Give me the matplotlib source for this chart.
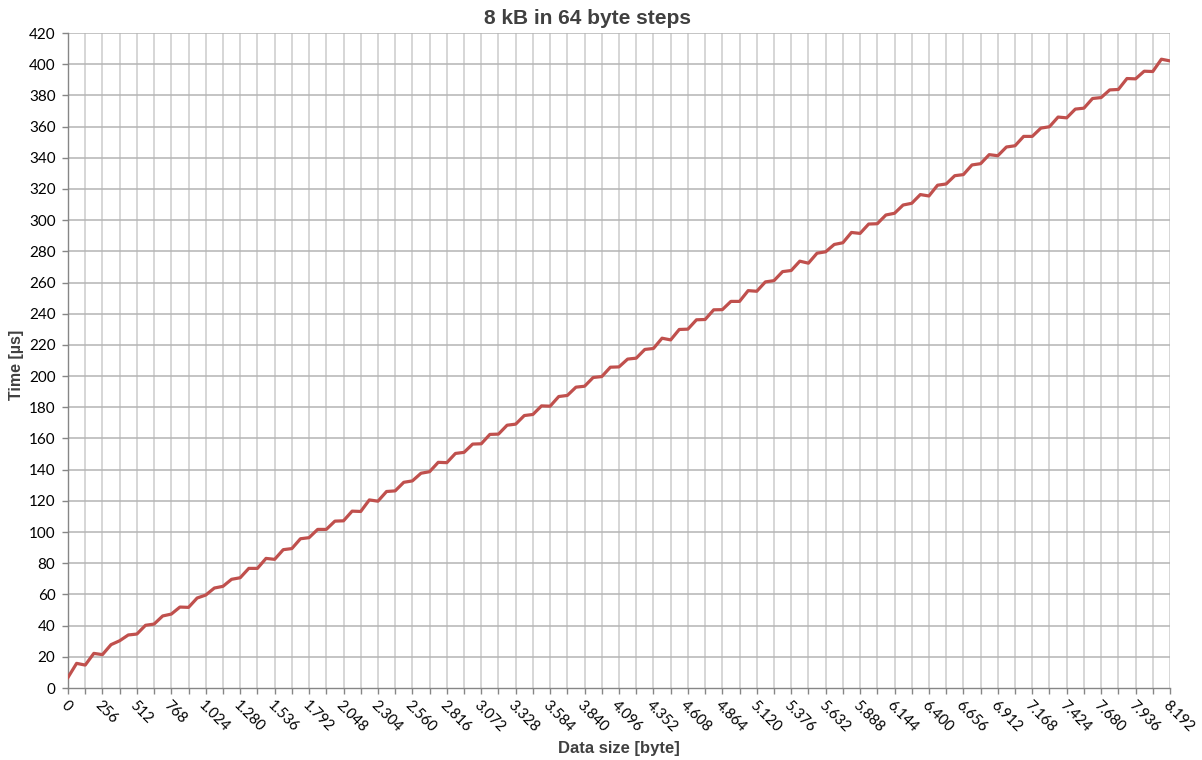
import numpy as np
import matplotlib
matplotlib.use("Agg")
import matplotlib.pyplot as plt
from matplotlib.ticker import FixedLocator

# Transfer size in bytes (64-byte steps up to 8 kB)
sizes = np.arange(0, 8193, 64)

# Measured transfer time in microseconds
times_us = [
    6.8, 15.8, 14.7, 22.2, 21.4, 27.8, 30.3, 34.0, 34.6, 40.2,
    41.0, 46.2, 47.4, 51.9, 51.7, 57.7, 59.6, 64.1, 65.2, 69.7,
    70.7, 76.7, 76.7, 83.1, 82.5, 88.7, 89.4, 95.7, 96.4, 101.7,
    101.7, 107.0, 107.2, 113.4, 113.2, 120.6, 119.8, 126.0, 126.4, 131.9,
    132.8, 137.7, 138.7, 144.7, 144.5, 150.4, 151.1, 156.4, 156.6, 162.6,
    162.8, 168.5, 169.2, 174.7, 175.4, 180.9, 180.7, 186.9, 187.6, 192.9,
    193.5, 199.1, 199.7, 205.7, 205.9, 210.9, 211.5, 217.1, 217.7, 224.3,
    223.2, 229.9, 230.1, 236.1, 236.3, 242.5, 242.6, 247.9, 247.9, 254.8,
    254.4, 260.4, 261.2, 267.0, 267.7, 273.7, 272.4, 278.8, 279.7, 284.4,
    285.5, 292.1, 291.5, 297.5, 297.7, 303.3, 304.4, 309.7, 310.8, 316.4,
    315.5, 322.4, 323.2, 328.5, 329.2, 335.4, 336.2, 342.0, 341.3, 346.9,
    347.7, 353.7, 353.7, 359.0, 359.9, 366.1, 365.6, 371.2, 371.8, 378.0,
    378.6, 383.5, 383.8, 390.8, 390.6, 395.5, 395.3, 403.2, 402.1,
]

# Axis tick positions and labels
x_grid = list(range(0, 8193, 128))
x_label_pos = list(range(0, 8193, 256))
x_labels = [f"{v:,}".replace(",", ".") for v in x_label_pos]
y_ticks = list(range(0, 421, 20))

title = "8 kB in 64 byte steps"
x_title = "Data size [byte]"
y_title = "Time [µs]"

W, H = 1202, 760
fig = plt.figure(figsize=(W / 100, H / 100), dpi=100)
ax = fig.add_axes([68 / W, 1 - 688 / H, (1170 - 68) / W, (688 - 33) / H])

ax.set_xlim(0, 8192)
ax.set_ylim(0, 420)

# Grid: light vertical lines every 128 bytes, darker horizontal lines every 20 µs
for xv in x_grid[1:]:
    ax.axvline(xv, color="#d6d6d6", lw=1.4, zorder=1)
for yv in y_ticks[1:]:
    ax.axhline(yv, color="#b4b4b4", lw=1.1, zorder=2)

ax.plot(sizes, times_us, color="#c0504d", lw=2.3, zorder=3)

for side in ("top", "right"):
    ax.spines[side].set_visible(False)
for side in ("left", "bottom"):
    ax.spines[side].set_color("#868686")
    ax.spines[side].set_linewidth(1.0)

label_font = ["Lato", "DejaVu Sans"]
ax.yaxis.set_major_locator(FixedLocator(y_ticks))
ax.set_yticklabels([str(v) for v in y_ticks], fontsize=11, family=label_font)
ax.xaxis.set_major_locator(FixedLocator(x_grid))
ax.set_xticklabels([x_labels[i // 2] if i % 2 == 0 else "" for i in range(len(x_grid))],
                   fontsize=10.5, family=label_font, rotation=-45,
                   ha="left", va="top", rotation_mode="anchor")
ax.tick_params(axis="both", direction="out", length=4, color="#868686", width=1.0)
ax.tick_params(axis="x", pad=3)
ax.tick_params(axis="y", pad=5)

fig.text(587 / W, 1 - 18 / H, title, ha="center", va="center",
         fontsize=15, fontweight="bold", family="Liberation Sans", color="#404040")
fig.text(619 / W, 1 - 748 / H, x_title, ha="center", va="center",
         fontsize=12, fontweight="bold", family="Liberation Sans", color="#404040")
fig.text(16 / W, 1 - 365 / H, y_title, ha="center", va="center", rotation=90,
         fontsize=11.5, fontweight="bold", family="Liberation Sans", color="#404040")

fig.savefig("out.png", dpi=100, facecolor="white")
